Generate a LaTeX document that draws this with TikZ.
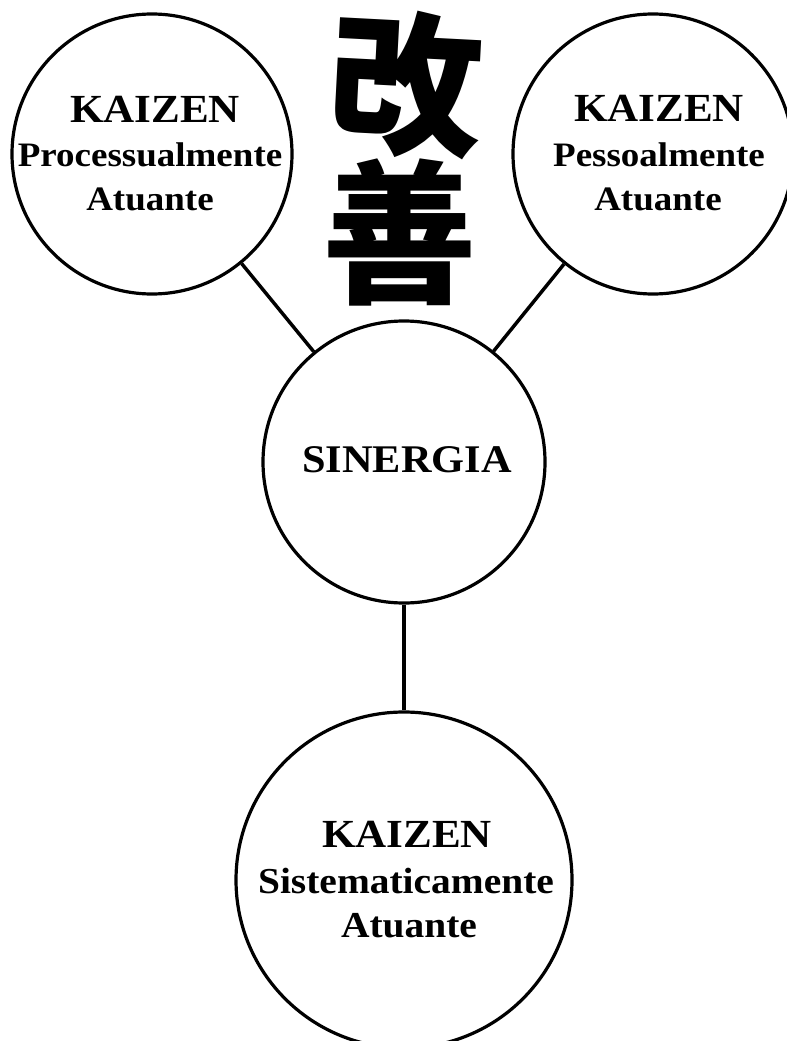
\documentclass[tikz,border=0pt]{standalone}
\usepackage{fontspec}
\setmainfont{Liberation Serif}[FakeStretch=1.08]
\newfontfamily\cjk{Noto Sans CJK JP}

\begin{document}
\begin{tikzpicture}[x=0.75pt,y=-0.75pt,
    ring/.style={circle,draw=black,line width=2.4pt,inner sep=0pt},
    link/.style={line width=2.6pt},
    txt/.style={anchor=base,inner sep=0pt,font=\bfseries},
    head/.style={txt,font=\bfseries\fontsize{29.9pt}{32pt}\selectfont},
    subl/.style={txt,font=\bfseries\fontsize{25.7pt}{32pt}\selectfont},
    subb/.style={txt,font=\bfseries\fontsize{27.4pt}{34pt}\selectfont},
    kanji/.style={inner sep=0pt,font=\cjk\bfseries\fontsize{116pt}{116pt}\selectfont}]

  \useasboundingbox (0,0) rectangle (786,1041);

  % the four circles
  \node[ring,minimum size=210pt] (proc) at (152,154) {};
  \node[ring,minimum size=210pt] (pess) at (653,154) {};
  \node[ring,minimum size=211.5pt] (sin) at (404,462) {};
  \node[ring,minimum size=252pt] (sist) at (404,880) {};

  % connectors
  \draw[link] (proc) -- (sin);
  \draw[link] (pess) -- (sin);
  \draw[link] (sin) -- (sist);

  % kaizen characters
  \node[kanji,rotate=-3] (kai) at (406,84) {改};
  \node[kanji] (zen) at (400,232) {善};

  % labels
  \node[head] (proc-t) at (155,123) {KAIZEN};
  \node[subl] (proc-a) at (150,167) {Processualmente};
  \node[subl] (proc-b) at (150,210) {Atuante};

  \node[head] (pess-t) at (659,122) {KAIZEN};
  \node[subl] (pess-a) at (659,167) {Pessoalmente};
  \node[subl] (pess-b) at (658,210) {Atuante};

  \node[head,font=\bfseries\fontsize{29.4pt}{32pt}\selectfont] (sin-t) at (407,472) {SINERGIA};

  \node[head] (sist-t) at (407,847) {KAIZEN};
  \node[subb] (sist-a) at (406,893) {Sistematicamente};
  \node[subb] (sist-b) at (409,937) {Atuante};
\end{tikzpicture}
\end{document}
